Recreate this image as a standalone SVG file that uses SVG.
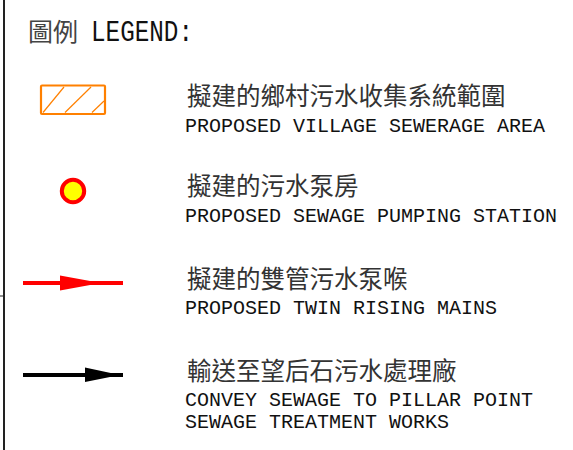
<svg xmlns="http://www.w3.org/2000/svg" width="573" height="450" viewBox="0 0 573 450">
<style>
.zh{font-family:"Noto Sans CJK TC","Noto Sans CJK SC",sans-serif;font-size:24.5px;fill:#333}
.en{font-family:"Liberation Mono","DejaVu Sans Mono",monospace;font-size:20px;fill:#111}
</style>
<rect width="573" height="450" fill="#fff"/>
<g id="border">
<line x1="4" y1="0" x2="4" y2="450" stroke="#222" stroke-width="2"/>
<line x1="0" y1="296" x2="4" y2="296" stroke="#222" stroke-width="1"/>
</g>
<g id="title">
<text x="28" y="41" class="zh" style="font-size:25px;fill:#444">圖例 <tspan class="en" x="91" style="font-size:30px;fill:#111" textLength="102" lengthAdjust="spacingAndGlyphs">LEGEND:</tspan></text>
</g>
<g id="item-area">
<rect x="41" y="85.5" width="64" height="28.5" fill="none" stroke="#FF8000" stroke-width="2.2" rx="1"/>
<g stroke="#FF8000" stroke-width="1.2">
<line x1="43" y1="112.5" x2="64" y2="87"/>
<line x1="65" y1="112.5" x2="91" y2="87"/>
<line x1="92" y1="112.5" x2="104" y2="101"/>
</g>
<text class="zh" x="187" y="105">擬建的鄉村污水收集系統範圍</text>
<text class="en" x="185" y="131.5">PROPOSED VILLAGE SEWERAGE AREA</text>
</g>
<g id="item-pump">
<circle cx="73" cy="191" r="11.2" fill="#FFFF00" stroke="#FF0000" stroke-width="4"/>
<text class="zh" x="187" y="195">擬建的污水泵房</text>
<text class="en" x="185" y="222">PROPOSED SEWAGE PUMPING STATION</text>
</g>
<g id="item-mains">
<text class="zh" x="187" y="288">擬建的雙管污水泵喉</text>
<text class="en" x="185" y="314">PROPOSED TWIN RISING MAINS</text>
</g>
<g id="item-convey">
<text class="zh" x="187" y="380">輸送至望后石污水處理廠</text>
<text class="en" x="185" y="405.5">CONVEY SEWAGE TO PILLAR POINT</text>
<text class="en" x="185" y="427.5">SEWAGE TREATMENT WORKS</text>
</g>
<g id="connectors">
<line x1="23" y1="283" x2="123" y2="283" stroke="#FF0000" stroke-width="4"/>
<path d="M60,275.5 L101,283 L60,290.5 Z" fill="#FF0000"/>
<line x1="23" y1="375" x2="123" y2="375" stroke="#000" stroke-width="4"/>
<path d="M85,367.5 L120,375 L85,382 Z" fill="#000"/>
</g>
</svg>
